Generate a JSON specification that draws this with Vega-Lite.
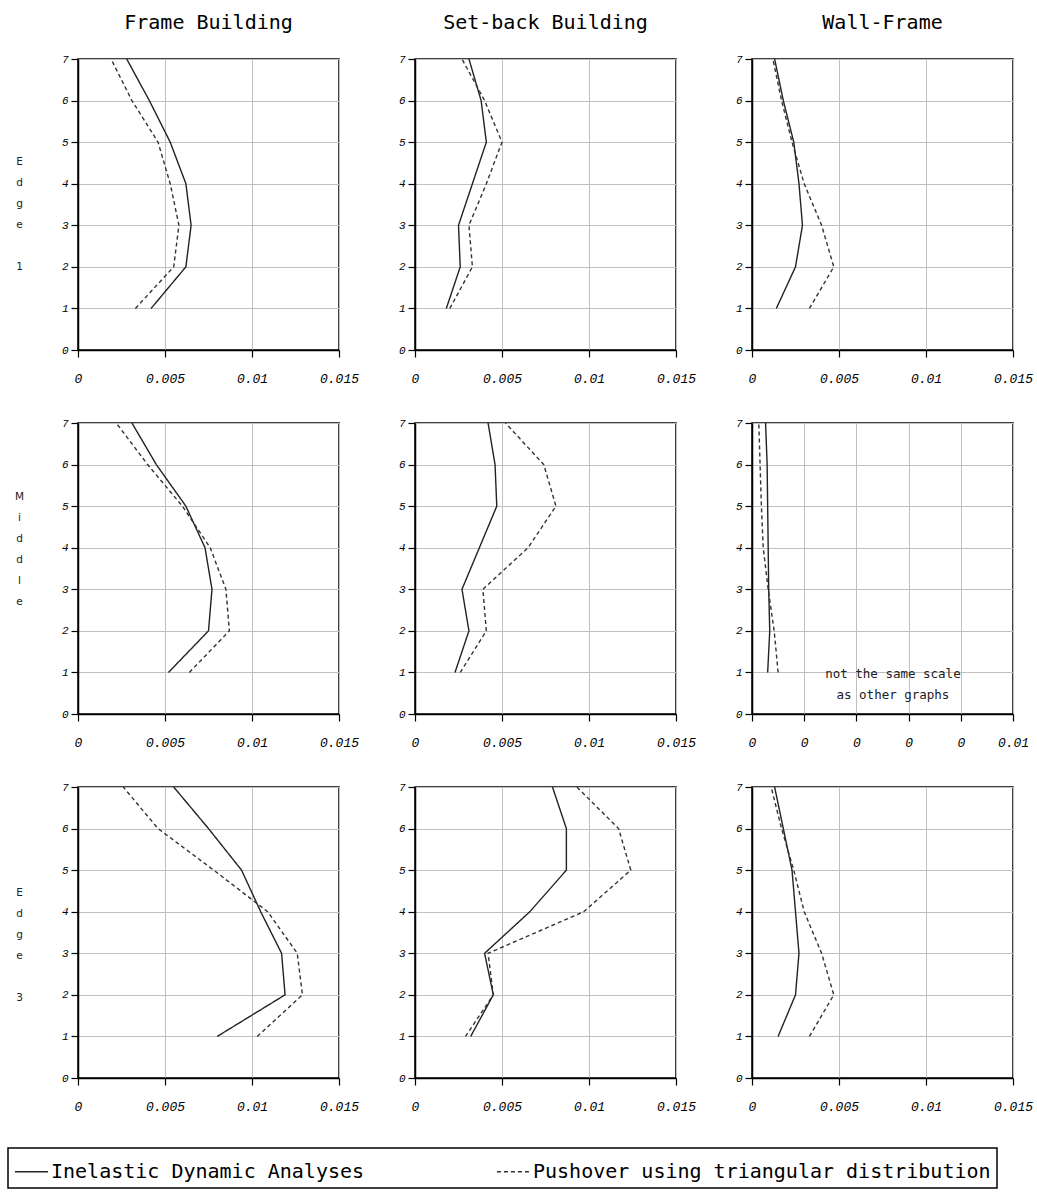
{
  "$schema": "https://vega.github.io/schema/vega-lite/v6.json",
  "padding": {"left": 7, "top": 12, "right": 2, "bottom": 0},
  "background": "white",
  "data": {
    "values": [
      {"b": "Frame", "p": "Edge 1", "s": 1, "Inelastic Dynamic Analyses": 0.0042, "Pushover using triangular distribution": 0.0033},
      {"b": "Frame", "p": "Edge 1", "s": 2, "Inelastic Dynamic Analyses": 0.0062, "Pushover using triangular distribution": 0.0055},
      {"b": "Frame", "p": "Edge 1", "s": 3, "Inelastic Dynamic Analyses": 0.0065, "Pushover using triangular distribution": 0.0058},
      {"b": "Frame", "p": "Edge 1", "s": 4, "Inelastic Dynamic Analyses": 0.0062, "Pushover using triangular distribution": 0.0053},
      {"b": "Frame", "p": "Edge 1", "s": 5, "Inelastic Dynamic Analyses": 0.0053, "Pushover using triangular distribution": 0.0046},
      {"b": "Frame", "p": "Edge 1", "s": 6, "Inelastic Dynamic Analyses": 0.0041, "Pushover using triangular distribution": 0.0031},
      {"b": "Frame", "p": "Edge 1", "s": 7, "Inelastic Dynamic Analyses": 0.0028, "Pushover using triangular distribution": 0.0019},
      {"b": "Set-back", "p": "Edge 1", "s": 1, "Inelastic Dynamic Analyses": 0.0018, "Pushover using triangular distribution": 0.0020},
      {"b": "Set-back", "p": "Edge 1", "s": 2, "Inelastic Dynamic Analyses": 0.0026, "Pushover using triangular distribution": 0.0033},
      {"b": "Set-back", "p": "Edge 1", "s": 3, "Inelastic Dynamic Analyses": 0.0025, "Pushover using triangular distribution": 0.0031},
      {"b": "Set-back", "p": "Edge 1", "s": 4, "Inelastic Dynamic Analyses": 0.0033, "Pushover using triangular distribution": 0.0041},
      {"b": "Set-back", "p": "Edge 1", "s": 5, "Inelastic Dynamic Analyses": 0.0041, "Pushover using triangular distribution": 0.0050},
      {"b": "Set-back", "p": "Edge 1", "s": 6, "Inelastic Dynamic Analyses": 0.0038, "Pushover using triangular distribution": 0.0040},
      {"b": "Set-back", "p": "Edge 1", "s": 7, "Inelastic Dynamic Analyses": 0.0031, "Pushover using triangular distribution": 0.0027},
      {"b": "Wall-Frame", "p": "Edge 1", "s": 1, "Inelastic Dynamic Analyses": 0.0014, "Pushover using triangular distribution": 0.0033},
      {"b": "Wall-Frame", "p": "Edge 1", "s": 2, "Inelastic Dynamic Analyses": 0.0025, "Pushover using triangular distribution": 0.0047},
      {"b": "Wall-Frame", "p": "Edge 1", "s": 3, "Inelastic Dynamic Analyses": 0.0029, "Pushover using triangular distribution": 0.0040},
      {"b": "Wall-Frame", "p": "Edge 1", "s": 4, "Inelastic Dynamic Analyses": 0.0027, "Pushover using triangular distribution": 0.0030},
      {"b": "Wall-Frame", "p": "Edge 1", "s": 5, "Inelastic Dynamic Analyses": 0.0024, "Pushover using triangular distribution": 0.0023},
      {"b": "Wall-Frame", "p": "Edge 1", "s": 6, "Inelastic Dynamic Analyses": 0.0018, "Pushover using triangular distribution": 0.0017},
      {"b": "Wall-Frame", "p": "Edge 1", "s": 7, "Inelastic Dynamic Analyses": 0.0013, "Pushover using triangular distribution": 0.0012},
      {"b": "Frame", "p": "Middle", "s": 1, "Inelastic Dynamic Analyses": 0.0052, "Pushover using triangular distribution": 0.0064},
      {"b": "Frame", "p": "Middle", "s": 2, "Inelastic Dynamic Analyses": 0.0075, "Pushover using triangular distribution": 0.0087},
      {"b": "Frame", "p": "Middle", "s": 3, "Inelastic Dynamic Analyses": 0.0077, "Pushover using triangular distribution": 0.0085},
      {"b": "Frame", "p": "Middle", "s": 4, "Inelastic Dynamic Analyses": 0.0073, "Pushover using triangular distribution": 0.0076},
      {"b": "Frame", "p": "Middle", "s": 5, "Inelastic Dynamic Analyses": 0.0062, "Pushover using triangular distribution": 0.0060},
      {"b": "Frame", "p": "Middle", "s": 6, "Inelastic Dynamic Analyses": 0.0045, "Pushover using triangular distribution": 0.0040},
      {"b": "Frame", "p": "Middle", "s": 7, "Inelastic Dynamic Analyses": 0.0031, "Pushover using triangular distribution": 0.0022},
      {"b": "Set-back", "p": "Middle", "s": 1, "Inelastic Dynamic Analyses": 0.0023, "Pushover using triangular distribution": 0.0026},
      {"b": "Set-back", "p": "Middle", "s": 2, "Inelastic Dynamic Analyses": 0.0031, "Pushover using triangular distribution": 0.0041},
      {"b": "Set-back", "p": "Middle", "s": 3, "Inelastic Dynamic Analyses": 0.0027, "Pushover using triangular distribution": 0.0039},
      {"b": "Set-back", "p": "Middle", "s": 4, "Inelastic Dynamic Analyses": 0.0037, "Pushover using triangular distribution": 0.0065},
      {"b": "Set-back", "p": "Middle", "s": 5, "Inelastic Dynamic Analyses": 0.0047, "Pushover using triangular distribution": 0.0081},
      {"b": "Set-back", "p": "Middle", "s": 6, "Inelastic Dynamic Analyses": 0.0046, "Pushover using triangular distribution": 0.0074},
      {"b": "Set-back", "p": "Middle", "s": 7, "Inelastic Dynamic Analyses": 0.0042, "Pushover using triangular distribution": 0.0052},
      {"b": "Wall-Frame", "p": "Middle", "s": 1, "Inelastic Dynamic Analyses": 0.00060, "Pushover using triangular distribution": 0.00100},
      {"b": "Wall-Frame", "p": "Middle", "s": 2, "Inelastic Dynamic Analyses": 0.00068, "Pushover using triangular distribution": 0.00085},
      {"b": "Wall-Frame", "p": "Middle", "s": 3, "Inelastic Dynamic Analyses": 0.00064, "Pushover using triangular distribution": 0.00062},
      {"b": "Wall-Frame", "p": "Middle", "s": 4, "Inelastic Dynamic Analyses": 0.00062, "Pushover using triangular distribution": 0.00043},
      {"b": "Wall-Frame", "p": "Middle", "s": 5, "Inelastic Dynamic Analyses": 0.00060, "Pushover using triangular distribution": 0.00036},
      {"b": "Wall-Frame", "p": "Middle", "s": 6, "Inelastic Dynamic Analyses": 0.00058, "Pushover using triangular distribution": 0.00031},
      {"b": "Wall-Frame", "p": "Middle", "s": 7, "Inelastic Dynamic Analyses": 0.00052, "Pushover using triangular distribution": 0.00026},
      {"b": "Frame", "p": "Edge 3", "s": 1, "Inelastic Dynamic Analyses": 0.0080, "Pushover using triangular distribution": 0.0103},
      {"b": "Frame", "p": "Edge 3", "s": 2, "Inelastic Dynamic Analyses": 0.0119, "Pushover using triangular distribution": 0.0129},
      {"b": "Frame", "p": "Edge 3", "s": 3, "Inelastic Dynamic Analyses": 0.0117, "Pushover using triangular distribution": 0.0126},
      {"b": "Frame", "p": "Edge 3", "s": 4, "Inelastic Dynamic Analyses": 0.0105, "Pushover using triangular distribution": 0.0109},
      {"b": "Frame", "p": "Edge 3", "s": 5, "Inelastic Dynamic Analyses": 0.0094, "Pushover using triangular distribution": 0.0078},
      {"b": "Frame", "p": "Edge 3", "s": 6, "Inelastic Dynamic Analyses": 0.0075, "Pushover using triangular distribution": 0.0046},
      {"b": "Frame", "p": "Edge 3", "s": 7, "Inelastic Dynamic Analyses": 0.0055, "Pushover using triangular distribution": 0.0026},
      {"b": "Set-back", "p": "Edge 3", "s": 1, "Inelastic Dynamic Analyses": 0.0032, "Pushover using triangular distribution": 0.0029},
      {"b": "Set-back", "p": "Edge 3", "s": 2, "Inelastic Dynamic Analyses": 0.0045, "Pushover using triangular distribution": 0.0045},
      {"b": "Set-back", "p": "Edge 3", "s": 3, "Inelastic Dynamic Analyses": 0.0040, "Pushover using triangular distribution": 0.0042},
      {"b": "Set-back", "p": "Edge 3", "s": 4, "Inelastic Dynamic Analyses": 0.0066, "Pushover using triangular distribution": 0.0097},
      {"b": "Set-back", "p": "Edge 3", "s": 5, "Inelastic Dynamic Analyses": 0.0087, "Pushover using triangular distribution": 0.0124},
      {"b": "Set-back", "p": "Edge 3", "s": 6, "Inelastic Dynamic Analyses": 0.0087, "Pushover using triangular distribution": 0.0117},
      {"b": "Set-back", "p": "Edge 3", "s": 7, "Inelastic Dynamic Analyses": 0.0079, "Pushover using triangular distribution": 0.0093},
      {"b": "Wall-Frame", "p": "Edge 3", "s": 1, "Inelastic Dynamic Analyses": 0.0015, "Pushover using triangular distribution": 0.0033},
      {"b": "Wall-Frame", "p": "Edge 3", "s": 2, "Inelastic Dynamic Analyses": 0.0025, "Pushover using triangular distribution": 0.0047},
      {"b": "Wall-Frame", "p": "Edge 3", "s": 3, "Inelastic Dynamic Analyses": 0.0027, "Pushover using triangular distribution": 0.0040},
      {"b": "Wall-Frame", "p": "Edge 3", "s": 4, "Inelastic Dynamic Analyses": 0.0025, "Pushover using triangular distribution": 0.0030},
      {"b": "Wall-Frame", "p": "Edge 3", "s": 5, "Inelastic Dynamic Analyses": 0.0023, "Pushover using triangular distribution": 0.0024},
      {"b": "Wall-Frame", "p": "Edge 3", "s": 6, "Inelastic Dynamic Analyses": 0.0018, "Pushover using triangular distribution": 0.0017},
      {"b": "Wall-Frame", "p": "Edge 3", "s": 7, "Inelastic Dynamic Analyses": 0.0013, "Pushover using triangular distribution": 0.0011}
    ]
  },
  "columns": 3,
  "spacing": {"row": 73, "column": 76},
  "bounds": "flush",
  "resolve": {"scale": {"x": "independent", "y": "shared", "strokeDash": "shared", "color": "shared"}, "legend": {"strokeDash": "shared", "color": "shared"}},
  "concat": [
    {
      "width": 261, "height": 291,
      "title": "Frame Building",
      "transform": [{"filter": "datum.b === 'Frame' && datum.p === 'Edge 1'"}, {"fold": ["Inelastic Dynamic Analyses", "Pushover using triangular distribution"], "as": ["method", "drift"]}],
      "mark": {"type": "line", "strokeWidth": 1.4},
      "encoding": {
        "x": {"field": "drift", "type": "quantitative", "scale": {"domain": [0, 0.015], "nice": false}, "axis": {"values": [0, 0.005, 0.01, 0.015], "labelExpr": "format(datum.value, '~g')"}},
        "y": {"field": "s", "type": "quantitative", "scale": {"domain": [0, 7], "nice": false}, "axis": {"values": [0, 1, 2, 3, 4, 5, 6, 7], "title": ["E", "d", "g", "e", "\u2800", "1"], "titleY": 97}},
        "order": {"field": "s"},
        "strokeDash": {"field": "method", "type": "nominal", "scale": {"domain": ["Inelastic Dynamic Analyses", "Pushover using triangular distribution"], "range": [[1, 0], [4, 3]]}},
        "color": {"field": "method", "type": "nominal", "scale": {"domain": ["Inelastic Dynamic Analyses", "Pushover using triangular distribution"], "range": ["#222222", "#333333"]}}
      }
    },
    {
      "width": 261, "height": 291,
      "title": "Set-back Building",
      "transform": [{"filter": "datum.b === 'Set-back' && datum.p === 'Edge 1'"}, {"fold": ["Inelastic Dynamic Analyses", "Pushover using triangular distribution"], "as": ["method", "drift"]}],
      "mark": {"type": "line", "strokeWidth": 1.4},
      "encoding": {
        "x": {"field": "drift", "type": "quantitative", "scale": {"domain": [0, 0.015], "nice": false}, "axis": {"values": [0, 0.005, 0.01, 0.015], "labelExpr": "format(datum.value, '~g')"}},
        "y": {"field": "s", "type": "quantitative", "scale": {"domain": [0, 7], "nice": false}, "axis": {"values": [0, 1, 2, 3, 4, 5, 6, 7], "title": null}},
        "order": {"field": "s"},
        "strokeDash": {"field": "method", "type": "nominal"},
        "color": {"field": "method", "type": "nominal"}
      }
    },
    {
      "width": 261, "height": 291,
      "title": "Wall-Frame",
      "transform": [{"filter": "datum.b === 'Wall-Frame' && datum.p === 'Edge 1'"}, {"fold": ["Inelastic Dynamic Analyses", "Pushover using triangular distribution"], "as": ["method", "drift"]}],
      "mark": {"type": "line", "strokeWidth": 1.4},
      "encoding": {
        "x": {"field": "drift", "type": "quantitative", "scale": {"domain": [0, 0.015], "nice": false}, "axis": {"values": [0, 0.005, 0.01, 0.015], "labelExpr": "format(datum.value, '~g')"}},
        "y": {"field": "s", "type": "quantitative", "scale": {"domain": [0, 7], "nice": false}, "axis": {"values": [0, 1, 2, 3, 4, 5, 6, 7], "title": null}},
        "order": {"field": "s"},
        "strokeDash": {"field": "method", "type": "nominal"},
        "color": {"field": "method", "type": "nominal"}
      }
    },
    {
      "width": 261, "height": 291,
      "transform": [{"filter": "datum.b === 'Frame' && datum.p === 'Middle'"}, {"fold": ["Inelastic Dynamic Analyses", "Pushover using triangular distribution"], "as": ["method", "drift"]}],
      "mark": {"type": "line", "strokeWidth": 1.4},
      "encoding": {
        "x": {"field": "drift", "type": "quantitative", "scale": {"domain": [0, 0.015], "nice": false}, "axis": {"values": [0, 0.005, 0.01, 0.015], "labelExpr": "format(datum.value, '~g')"}},
        "y": {"field": "s", "type": "quantitative", "scale": {"domain": [0, 7], "nice": false}, "axis": {"values": [0, 1, 2, 3, 4, 5, 6, 7], "title": ["M", "i", "d", "d", "l", "e"], "titleY": 68}},
        "order": {"field": "s"},
        "strokeDash": {"field": "method", "type": "nominal"},
        "color": {"field": "method", "type": "nominal"}
      }
    },
    {
      "width": 261, "height": 291,
      "transform": [{"filter": "datum.b === 'Set-back' && datum.p === 'Middle'"}, {"fold": ["Inelastic Dynamic Analyses", "Pushover using triangular distribution"], "as": ["method", "drift"]}],
      "mark": {"type": "line", "strokeWidth": 1.4},
      "encoding": {
        "x": {"field": "drift", "type": "quantitative", "scale": {"domain": [0, 0.015], "nice": false}, "axis": {"values": [0, 0.005, 0.01, 0.015], "labelExpr": "format(datum.value, '~g')"}},
        "y": {"field": "s", "type": "quantitative", "scale": {"domain": [0, 7], "nice": false}, "axis": {"values": [0, 1, 2, 3, 4, 5, 6, 7], "title": null}},
        "order": {"field": "s"},
        "strokeDash": {"field": "method", "type": "nominal"},
        "color": {"field": "method", "type": "nominal"}
      }
    },
    {
      "width": 261, "height": 291,
      "layer": [
        {
          "transform": [{"filter": "datum.b === 'Wall-Frame' && datum.p === 'Middle'"}, {"fold": ["Inelastic Dynamic Analyses", "Pushover using triangular distribution"], "as": ["method", "drift"]}],
          "mark": {"type": "line", "strokeWidth": 1.4},
          "encoding": {
            "x": {"field": "drift", "type": "quantitative", "scale": {"domain": [0, 0.01], "nice": false}, "axis": {"values": [0, 0.002, 0.004, 0.006, 0.008, 0.01], "labelExpr": "datum.value > 0.0099 ? '0.01' : '0'"}},
            "y": {"field": "s", "type": "quantitative", "scale": {"domain": [0, 7], "nice": false}, "axis": {"values": [0, 1, 2, 3, 4, 5, 6, 7], "title": null}},
            "order": {"field": "s"},
            "strokeDash": {"field": "method", "type": "nominal"},
            "color": {"field": "method", "type": "nominal"}
          }
        },
        {
          "data": {"values": [{}]},
          "mark": {"type": "text", "text": ["not the same scale", "as other graphs"], "font": "DejaVu Sans Mono", "fontSize": 12.5, "lineHeight": 21, "color": "#222222", "baseline": "middle", "align": "center"},
          "encoding": {
            "x": {"datum": 0.0054, "type": "quantitative"},
            "y": {"datum": 0.96, "type": "quantitative"}
          }
        }
      ]
    },
    {
      "width": 261, "height": 291,
      "transform": [{"filter": "datum.b === 'Frame' && datum.p === 'Edge 3'"}, {"fold": ["Inelastic Dynamic Analyses", "Pushover using triangular distribution"], "as": ["method", "drift"]}],
      "mark": {"type": "line", "strokeWidth": 1.4},
      "encoding": {
        "x": {"field": "drift", "type": "quantitative", "scale": {"domain": [0, 0.015], "nice": false}, "axis": {"values": [0, 0.005, 0.01, 0.015], "labelExpr": "format(datum.value, '~g')"}},
        "y": {"field": "s", "type": "quantitative", "scale": {"domain": [0, 7], "nice": false}, "axis": {"values": [0, 1, 2, 3, 4, 5, 6, 7], "title": ["E", "d", "g", "e", "\u2800", "3"], "titleY": 100}},
        "order": {"field": "s"},
        "strokeDash": {"field": "method", "type": "nominal"},
        "color": {"field": "method", "type": "nominal"}
      }
    },
    {
      "width": 261, "height": 291,
      "transform": [{"filter": "datum.b === 'Set-back' && datum.p === 'Edge 3'"}, {"fold": ["Inelastic Dynamic Analyses", "Pushover using triangular distribution"], "as": ["method", "drift"]}],
      "mark": {"type": "line", "strokeWidth": 1.4},
      "encoding": {
        "x": {"field": "drift", "type": "quantitative", "scale": {"domain": [0, 0.015], "nice": false}, "axis": {"values": [0, 0.005, 0.01, 0.015], "labelExpr": "format(datum.value, '~g')"}},
        "y": {"field": "s", "type": "quantitative", "scale": {"domain": [0, 7], "nice": false}, "axis": {"values": [0, 1, 2, 3, 4, 5, 6, 7], "title": null}},
        "order": {"field": "s"},
        "strokeDash": {"field": "method", "type": "nominal"},
        "color": {"field": "method", "type": "nominal"}
      }
    },
    {
      "width": 261, "height": 291,
      "transform": [{"filter": "datum.b === 'Wall-Frame' && datum.p === 'Edge 3'"}, {"fold": ["Inelastic Dynamic Analyses", "Pushover using triangular distribution"], "as": ["method", "drift"]}],
      "mark": {"type": "line", "strokeWidth": 1.4},
      "encoding": {
        "x": {"field": "drift", "type": "quantitative", "scale": {"domain": [0, 0.015], "nice": false}, "axis": {"values": [0, 0.005, 0.01, 0.015], "labelExpr": "format(datum.value, '~g')"}},
        "y": {"field": "s", "type": "quantitative", "scale": {"domain": [0, 7], "nice": false}, "axis": {"values": [0, 1, 2, 3, 4, 5, 6, 7], "title": null}},
        "order": {"field": "s"},
        "strokeDash": {"field": "method", "type": "nominal"},
        "color": {"field": "method", "type": "nominal"}
      }
    }
  ],
  "config": {
    "view": {"stroke": "black", "strokeWidth": 1.5},
    "axis": {
      "grid": true, "gridColor": "#c0c0c0", "gridWidth": 1,
      "domainColor": "black", "domainWidth": 1.5,
      "tickColor": "black", "tickWidth": 1.2, "tickSize": 7,
      "labelFont": "Liberation Mono", "labelFontStyle": "italic", "labelFontSize": 11, "labelColor": "black",
      "labelFlush": false, "labelOverlap": false,
      "titleFont": "DejaVu Sans", "titleFontWeight": "normal", "titleFontSize": 10.5, "titleColor": "#222222",
      "titleAngle": 0, "titleX": -59, "titleAlign": "center", "titleBaseline": "top", "titleLineHeight": 21
    },
    "axisX": {"labelPadding": 15, "labelFontSize": 13, "title": null},
    "axisY": {"labelPadding": 3},
    "title": {"font": "DejaVu Sans Mono", "fontSize": 20, "fontWeight": "normal", "color": "black", "offset": 20},
    "legend": {
      "orient": "none", "legendX": -70, "legendY": 1089,
      "direction": "horizontal", "title": null,
      "symbolType": "stroke", "symbolSize": 1100, "symbolStrokeWidth": 1.6, "symbolStrokeColor": "black",
      "labelFont": "DejaVu Sans Mono", "labelFontSize": 20, "labelColor": "black", "labelLimit": 0, "labelOffset": 2,
      "strokeColor": "black", "strokeWidth": 1.5, "padding": 6, "columnPadding": 128
    }
  }
}
